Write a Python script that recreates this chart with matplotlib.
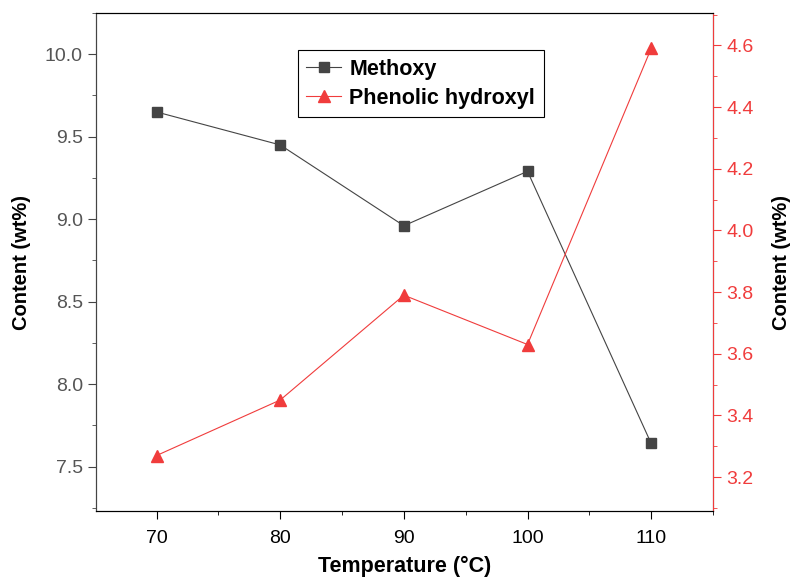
import matplotlib
matplotlib.use('Agg')
import matplotlib.pyplot as plt
from matplotlib.ticker import MultipleLocator

plt.rcParams['font.family'] = ['Liberation Sans', 'DejaVu Sans']

# datos
temperatura = [70, 80, 90, 100, 110]
metoxilo = [9.65, 9.45, 8.96, 9.29, 7.64]
hidroxilo_fenolico = [3.27, 3.45, 3.79, 3.63, 4.59]

gris = '#444444'
rojo = '#f03c3c'

fig = plt.figure(figsize=(7.96, 5.79), dpi=100)
ax = fig.add_axes([0.1206, 0.1174, 0.7751, 0.8601])
ax2 = ax.twinx()

l1, = ax.plot(temperatura, metoxilo, color=gris, lw=0.8, marker='s', ms=7,
              label='Methoxy')
l2, = ax2.plot(temperatura, hidroxilo_fenolico, color=rojo, lw=0.8, marker='^',
               ms=9, label='Phenolic hydroxyl')

ax.set_xlim(65.1, 115.0)
ax.set_ylim(7.23, 10.25)
ax2.set_ylim(3.09, 4.705)

ax.xaxis.set_major_locator(MultipleLocator(10))
ax.xaxis.set_minor_locator(MultipleLocator(5))
ax.yaxis.set_major_locator(MultipleLocator(0.5))
ax.yaxis.set_minor_locator(MultipleLocator(0.25))
ax2.yaxis.set_major_locator(MultipleLocator(0.2))
ax2.yaxis.set_minor_locator(MultipleLocator(0.1))
ax.yaxis.set_major_formatter(plt.FormatStrFormatter('%.1f'))
ax2.yaxis.set_major_formatter(plt.FormatStrFormatter('%.1f'))

ax.tick_params(axis='x', which='major', direction='out', length=6, labelsize=14, colors='black', pad=8)
ax.tick_params(axis='x', which='minor', direction='out', length=3)
ax.tick_params(axis='y', which='major', direction='out', length=6, labelsize=14,
               color=gris, labelcolor='#555555')
ax.tick_params(axis='y', which='minor', direction='out', length=3, color=gris)
ax2.tick_params(axis='y', which='major', direction='out', length=6, labelsize=14,
                color=rojo, labelcolor=rojo)
ax2.tick_params(axis='y', which='minor', direction='out', length=3, color=rojo)

ax2.spines['right'].set_color(rojo)
ax2.spines['left'].set_color(gris)
ax.spines['left'].set_color(gris)
for s in ['top', 'bottom']:
    ax2.spines[s].set_color('black')

ax.set_xlabel('Temperature (°C)', fontsize=15.5, fontweight='bold', labelpad=6)
ax.set_ylabel('Content (wt%)', fontsize=14.5, fontweight='bold', labelpad=10)
ax2.set_ylabel('Content (wt%)', fontsize=14.5, fontweight='bold', labelpad=13)

leg = ax.legend(handles=[l1, l2], loc='upper left', bbox_to_anchor=(0.327, 0.925),
                prop={'weight': 'bold', 'size': 15.5}, fancybox=False,
                edgecolor='black', framealpha=1, handlelength=1.6,
                borderpad=0.4, labelspacing=0.35, handletextpad=0.4,
                borderaxespad=0)
leg.get_frame().set_linewidth(0.8)

fig.savefig('out.png', dpi=100)
